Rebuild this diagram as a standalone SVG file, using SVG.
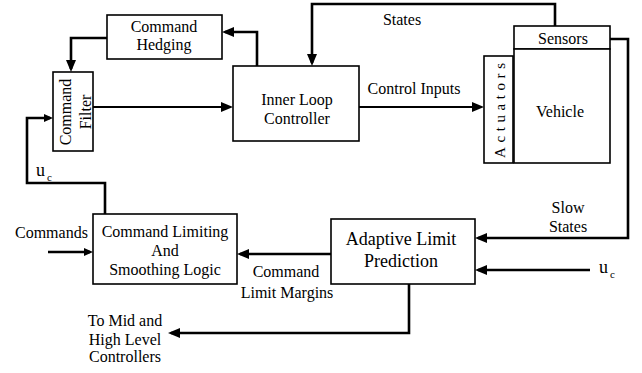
<svg xmlns="http://www.w3.org/2000/svg" width="642" height="373" viewBox="0 0 642 373">
  <style>
    .box { fill: #fff; stroke: #000; stroke-width: 1.6; }
    .lbl { font-family: "Liberation Serif", "Times New Roman", Times, "DejaVu Serif", serif; font-size: 16px; fill: #000; }
    .mid { text-anchor: middle; }
    .big { font-size: 18px; }
    .sub { font-size: 11px; }
    .act { font-size: 15px; }
    .wire { fill: none; stroke: #000; stroke-width: 2.6; }
    .thin { stroke-width: 1.8; }
    .arrow { marker-end: url(#head); }
    .arrow-s { marker-end: url(#head-s); }
  </style>
  <defs>
    <marker id="head" markerUnits="userSpaceOnUse" markerWidth="12" markerHeight="10" refX="9" refY="5" orient="auto">
      <path d="M0,0 L12,5 L0,10 Z" fill="#000"/>
    </marker>
    <marker id="head-s" markerUnits="userSpaceOnUse" markerWidth="9" markerHeight="8" refX="6" refY="4" orient="auto">
      <path d="M0,0 L9,4 L0,8 Z" fill="#000"/>
    </marker>
  </defs>

  <rect width="642" height="373" fill="#fff"/>

  <!-- connectors -->
  <g id="connectors">
    <path class="wire arrow" d="M257,66 V32 H225"/>
    <path class="wire arrow" d="M107,38 H71 V69"/>
    <path class="wire thin arrow" d="M93,107 H230"/>
    <path class="wire arrow" d="M555,26 V4 H312 V63"/>
    <path class="wire thin arrow" d="M359,107 H481"/>
    <path class="wire arrow" d="M610,39 H628 V238 H478"/>
    <path class="wire arrow" d="M590,270 H478"/>
    <path class="wire arrow" d="M331,254 H240"/>
    <path class="wire arrow" d="M409,284 V333 H171"/>
    <path class="wire arrow-s" d="M48,252 H90"/>
    <path class="wire arrow-s" d="M105,214 V183 H27 V118 H50"/>
  </g>

  <!-- connector labels -->
  <g id="labels">
    <text class="lbl mid" x="402" y="25">States</text>
    <text class="lbl mid" x="414" y="94">Control Inputs</text>
    <text class="lbl mid" x="568" y="213">Slow</text>
    <text class="lbl mid" x="568" y="232">States</text>
    <text class="lbl" x="15" y="238">Commands</text>
    <text class="lbl mid" x="286" y="277">Command</text>
    <text class="lbl mid" x="287" y="298">Limit Margins</text>
    <text class="lbl mid" x="125" y="326">To Mid and</text>
    <text class="lbl mid" x="125" y="345">High Level</text>
    <text class="lbl mid" x="125" y="362">Controllers</text>
    <text class="lbl big" x="36" y="176">u</text>
    <text class="lbl sub" x="47" y="181">c</text>
    <text class="lbl big" x="599" y="273">u</text>
    <text class="lbl sub" x="610" y="278">c</text>
  </g>

  <g id="command-hedging">
    <rect class="box" x="107" y="15" width="115" height="44"/>
    <text class="lbl mid" x="164" y="32">Command</text>
    <text class="lbl mid" x="164" y="50">Hedging</text>
  </g>

  <g id="command-filter">
    <rect class="box" x="53" y="72" width="40" height="79"/>
    <g transform="translate(71,112) rotate(-90)">
      <text class="lbl mid" x="0" y="0">Command</text>
      <text class="lbl mid" x="0" y="20">Filter</text>
    </g>
  </g>

  <g id="inner-loop-controller">
    <rect class="box" x="233" y="66" width="126" height="75"/>
    <text class="lbl mid" x="297" y="105">Inner Loop</text>
    <text class="lbl mid" x="297" y="124">Controller</text>
  </g>

  <g id="sensors">
    <rect class="box" x="514" y="26" width="96" height="23"/>
    <text class="lbl mid" x="563" y="44">Sensors</text>
  </g>

  <g id="vehicle">
    <rect class="box" x="514" y="49" width="96" height="114"/>
    <text class="lbl mid" x="560" y="117">Vehicle</text>
  </g>

  <g id="actuators">
    <rect class="box" x="484" y="56" width="29" height="107"/>
    <text class="lbl act" transform="translate(505,158) rotate(-90)" x="0" y="0" textLength="95" lengthAdjust="spacing">Actuators</text>
  </g>

  <g id="command-limiting">
    <rect class="box" x="93" y="214" width="144" height="70"/>
    <text class="lbl mid" x="165" y="237">Command Limiting</text>
    <text class="lbl mid" x="165" y="256">And</text>
    <text class="lbl mid" x="165" y="275">Smoothing Logic</text>
  </g>

  <g id="adaptive-limit-prediction">
    <rect class="box" x="331" y="219" width="144" height="65"/>
    <text class="lbl mid big" x="401" y="245">Adaptive Limit</text>
    <text class="lbl mid big" x="401" y="267">Prediction</text>
  </g>
</svg>
